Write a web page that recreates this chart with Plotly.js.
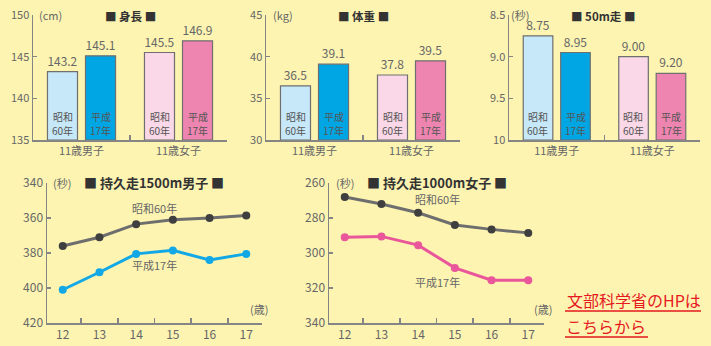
<!DOCTYPE html>
<html>
<head>
<meta charset="utf-8">
<script src="https://cdn.plot.ly/plotly-3.0.1.min.js"></script>
<style>html,body{margin:0;padding:0;background:#FDF4B2;}#chart{width:711px;height:346px;}</style>
</head>
<body>
<div id="chart"></div>
<script>
// ---- data ----
const categories = ['11歳男子', '11歳女子'];
const heightShowa = [143.2, 145.5];
const heightHeisei = [145.1, 146.9];
const weightShowa = [36.5, 37.8];
const weightHeisei = [39.1, 39.5];
const run50Showa = [8.75, 9.00];
const run50Heisei = [8.95, 9.20];
const ages = ['12', '13', '14', '15', '16', '17'];
const m1500Showa = [376, 371, 363.5, 361, 360, 358.5];
const m1500Heisei = [401, 391, 380.5, 378.5, 384, 380.5];
const m1000Showa = [268, 272, 277, 284, 286.5, 288.5];
const m1000Heisei = [291, 290.5, 295.5, 308.5, 315.5, 315.5];
const showaLabel = ['昭和', '60年'];
const heiseiLabel = ['平成', '17年'];
const lineShowaLabel = '昭和60年';
const lineHeiseiLabel = '平成17年';

// ---- styles ----
const W = 711, H = 346;
const px = v => v / W;
const py = v => 1 - v / H;
const FONT = '"Noto Sans CJK JP", "Noto Sans", sans-serif';
const BG = '#FDF4B2';
const showaColors = ['#C6E8F8', '#FAD8E7'];
const heiseiColors = ['#00A6E4', '#EE84B0'];
const GREY = '#666';

function barTrace(vals, colors, base, dec, xa, ya) {
  return {
    type: 'bar', x: categories, y: vals.map(v => v - base), base: base,
    xaxis: xa, yaxis: ya,
    marker: {color: colors, line: {color: '#6f6f6f', width: 1.2}},
    text: vals.map(v => v.toFixed(dec)), textposition: 'outside',
    textfont: {size: 12, color: GREY, family: FONT},
    cliponaxis: false, hoverinfo: 'skip'
  };
}
function lineTrace(vals, lineColor, markerColor, xa, ya) {
  return {
    type: 'scatter', mode: 'lines+markers', x: ages, y: vals,
    xaxis: xa, yaxis: ya,
    line: {color: lineColor, width: 3},
    marker: {color: markerColor, size: 8},
    cliponaxis: false, hoverinfo: 'skip'
  };
}

const traces = [
  barTrace(heightShowa, showaColors, 135, 1, 'x', 'y'),
  barTrace(heightHeisei, heiseiColors, 135, 1, 'x', 'y'),
  barTrace(weightShowa, showaColors, 30, 1, 'x2', 'y2'),
  barTrace(weightHeisei, heiseiColors, 30, 1, 'x2', 'y2'),
  barTrace(run50Showa, showaColors, 10, 2, 'x3', 'y3'),
  barTrace(run50Heisei, heiseiColors, 10, 2, 'x3', 'y3'),
  lineTrace(m1500Showa, '#6e6e6e', '#3f3f3f', 'x4', 'y4'),
  lineTrace(m1500Heisei, '#12A8E6', '#12A8E6', 'x4', 'y4'),
  lineTrace(m1000Showa, '#6e6e6e', '#3f3f3f', 'x5', 'y5'),
  lineTrace(m1000Heisei, '#E9579A', '#E9579A', 'x5', 'y5')
];

const axBase = {
  showgrid: false, zeroline: false, showline: true, linecolor: '#858585', linewidth: 1.5,
  ticks: 'inside', ticklen: 4, tickcolor: '#858585', tickwidth: 1.5,
  tickfont: {size: 11, color: GREY, family: FONT}, fixedrange: true
};
function xCat(l, r, anchor, size) {
  return Object.assign({}, axBase, {domain: [px(l), px(r)], anchor: anchor, type: 'category',
    tickson: 'boundaries', ticklen: 5, tickfont: {size: size, color: GREY, family: FONT}});
}
function yLin(t, b, anchor, range, vals, text, size) {
  return Object.assign({}, axBase, {domain: [py(b), py(t)], anchor: anchor, range: range,
    tickvals: vals, ticktext: text, tickfont: {size: size, color: GREY, family: FONT}});
}

const annotations = [];
function ann(x, y, text, opts) {
  annotations.push(Object.assign({xref: 'paper', yref: 'paper', x: px(x), y: py(y), text: text,
    showarrow: false, xanchor: 'center', yanchor: 'middle',
    font: {size: 11, color: GREY, family: FONT}}, opts || {}));
}
// titles
ann(130, 16, '■ 身長 ■', {font: {size: 11.5, color: '#333', family: FONT, weight: 'bold'}});
ann(363, 16, '■ 体重 ■', {font: {size: 11.5, color: '#333', family: FONT, weight: 'bold'}});
ann(603, 16, '■ 50m走 ■', {font: {size: 11.5, color: '#333', family: FONT, weight: 'bold'}});
ann(154, 182, '■ 持久走1500m男子 ■', {font: {size: 13, color: '#333', family: FONT, weight: 'bold'}});
ann(437, 182, '■ 持久走1000m女子 ■', {font: {size: 13, color: '#333', family: FONT, weight: 'bold'}});
// units
ann(50, 15, '(cm)');
ann(283, 15, '(kg)');
ann(520, 15, '(秒)');
ann(62, 183, '(秒)');
ann(259, 309, '(歳)');
ann(345, 183, '(秒)');
ann(543, 309, '(歳)');
// line labels
ann(154, 208, lineShowaLabel);
ann(154, 265, lineHeiseiLabel);
ann(437, 199, lineShowaLabel);
ann(437, 282, lineHeiseiLabel);
// inside bar labels (two lines each)
[['x', 'y', 135], ['x2', 'y2', 30], ['x3', 'y3', 10]].forEach(([xa, ya, base]) => {
  categories.forEach(c => {
    [[showaLabel, -19], [heiseiLabel, 19]].forEach(([t, sh]) => {
      [[t[0], 15], [t[1], 1]].forEach(([line, ys]) => {
        annotations.push({xref: xa, yref: ya, x: c, y: base, xshift: sh, yshift: ys,
          text: line, showarrow: false, xanchor: 'center', yanchor: 'bottom', borderpad: 0,
          font: {size: 10, color: '#555', family: FONT}});
      });
    });
  });
});
// red link text
ann(634, 300, '文部科学省のHPは', {font: {size: 16, color: '#E5191F', family: FONT}});
ann(606, 326, 'こちらから', {font: {size: 16, color: '#E5191F', family: FONT}});

const shapes = [
  {type: 'line', xref: 'paper', yref: 'paper', x0: px(565), x1: px(701), y0: py(311), y1: py(311), line: {color: '#E5191F', width: 1.5}},
  {type: 'line', xref: 'paper', yref: 'paper', x0: px(565), x1: px(648), y0: py(337), y1: py(337), line: {color: '#E5191F', width: 1.5}}
];

const layout = {
  width: W, height: H, margin: {l: 0, r: 0, t: 0, b: 0},
  paper_bgcolor: BG, plot_bgcolor: BG, showlegend: false,
  barmode: 'group', bargap: 0.216, bargroupgap: 0.21,
  font: {family: FONT, color: GREY},
  xaxis: xCat(33, 227, 'y', 11),
  yaxis: yLin(15, 140, 'x', [135, 150], [135, 140, 145, 150], ['135', '140', '145', '150'], 11),
  xaxis2: xCat(266, 460, 'y2', 11),
  yaxis2: yLin(15, 140, 'x2', [30, 45], [30, 35, 40, 45], ['30', '35', '40', '45'], 11),
  xaxis3: xCat(509, 700, 'y3', 11),
  yaxis3: yLin(15, 140, 'x3', [10, 8.5], [8.5, 9, 9.5, 10], ['8.5', '9.0', '9.5', '10'], 11),
  xaxis4: xCat(47, 262, 'y4', 12),
  yaxis4: yLin(183, 323, 'x4', [420, 340], [340, 360, 380, 400, 420], ['340', '360', '380', '400', '420'], 12),
  xaxis5: xCat(329, 544, 'y5', 12),
  yaxis5: yLin(183, 323, 'x5', [340, 260], [260, 280, 300, 320, 340], ['260', '280', '300', '320', '340'], 12),
  annotations: annotations, shapes: shapes
};

Plotly.newPlot('chart', traces, layout, {staticPlot: true, displayModeBar: false});
</script>
</body>
</html>
